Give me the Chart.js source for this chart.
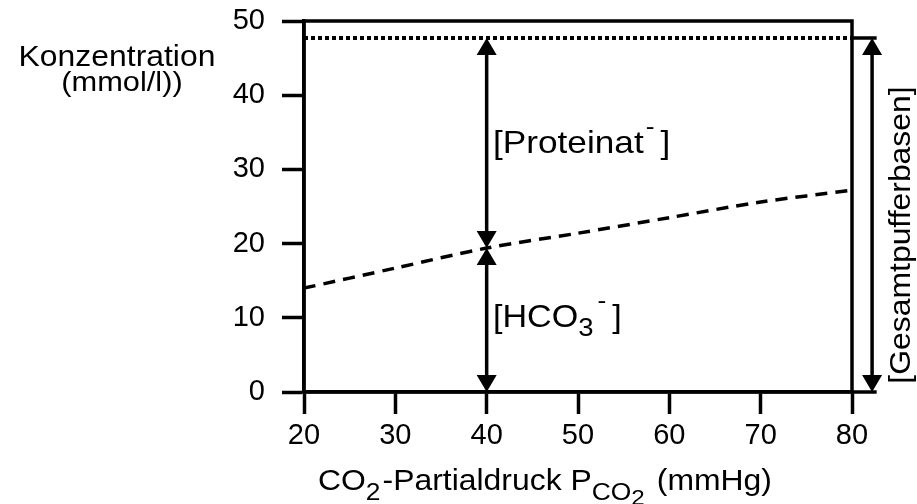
<!DOCTYPE html>
<html>
<head>
<meta charset="utf-8">
<script src="https://cdn.jsdelivr.net/npm/chart.js@4.4.1/dist/chart.umd.min.js"></script>
<style>
html, body { margin: 0; padding: 0; background: #fff; }
#wrap { width: 917px; height: 504px; }
</style>
</head>
<body>
<div id="wrap"><canvas id="co2Chart" width="917" height="504"></canvas></div>
<script>

// data

const pco2 = [20, 30, 40, 50, 60, 70, 80];
const hco3 = [14.0, 16.7, 19.4, 21.4, 23.5, 25.6, 27.2];

const bufferX = [20, 80];
const bufferY = [47.7, 47.7];

// arrows: x position, start value, end value
const arrowX = [40, 40, 82.2];
const arrowFrom = [0, 19.4, 0];
const arrowTo = [19.4, 47.7, 47.7];

const xTicks = [20, 30, 40, 50, 60, 70, 80];
const yTicks = [0, 10, 20, 30, 40, 50];

const FONT = "'Liberation Sans', Arial, sans-serif";
const SX = 1.1; // text in the picture is a bit wide
const LW = 3.5;

// draw a run of text pieces, each {t, size, dy}
function drawRun(ctx, x, y, parts){
  let cx = x;
  parts.forEach(p => {
    ctx.font = p.size + "px " + FONT;
    ctx.save();
    ctx.translate(cx, y + (p.dy || 0));
    ctx.scale(SX, 1);
    ctx.fillText(p.t, 0, 0);
    ctx.restore();
    cx += ctx.measureText(p.t).width * SX + (p.gap || 0);
  });
  return cx - x;
}

function runWidth(ctx, parts){
  let w = 0;
  parts.forEach(p => {
    ctx.font = p.size + "px " + FONT;
    w += ctx.measureText(p.t).width * SX + (p.gap || 0);
  });
  return w;
}

function arrowHead(ctx, x, y, dir){
  // dir -1 = pointing up, 1 = pointing down
  ctx.beginPath();
  ctx.moveTo(x, y);
  ctx.lineTo(x - 10, y - dir * 17);
  ctx.lineTo(x + 10, y - dir * 17);
  ctx.closePath();
  ctx.fill();
}

const extras = {
  id: "extras",
  afterDatasetsDraw(chart){
    const ctx = chart.ctx;
    const xs = chart.scales.x;
    const ys = chart.scales.y;
    const a = chart.chartArea;
    ctx.save();
    ctx.fillStyle = "#000";
    ctx.strokeStyle = "#000";
    ctx.lineWidth = LW;

    // frame
    ctx.strokeRect(a.left, a.top, a.right - a.left, a.bottom - a.top);

    // short solid lines out to the right arrow
    const xr = xs.getPixelForValue(82.7);
    ctx.beginPath();
    ctx.moveTo(a.right, ys.getPixelForValue(bufferY[1]));
    ctx.lineTo(xr, ys.getPixelForValue(bufferY[1]));
    ctx.moveTo(a.right, ys.getPixelForValue(0));
    ctx.lineTo(xr, ys.getPixelForValue(0));
    ctx.stroke();

    // arrows
    for(let i = 0; i < arrowX.length; i++){
      const x = xs.getPixelForValue(arrowX[i]);
      const y1 = ys.getPixelForValue(arrowFrom[i]);
      const y2 = ys.getPixelForValue(arrowTo[i]);
      ctx.beginPath();
      ctx.moveTo(x, y1 - 15);
      ctx.lineTo(x, y2 + 15);
      ctx.stroke();
      arrowHead(ctx, x, y1, 1);
      arrowHead(ctx, x, y2, -1);
    }

    ctx.textAlign = "left";
    ctx.textBaseline = "alphabetic";

    // [Proteinat-]
    drawRun(ctx, 493, 153, [
      {t: "[Proteinat", size: 32, gap: 2},
      {t: "-", size: 24, dy: -19, gap: 6},
      {t: "]", size: 32}
    ]);

    // [HCO3-]
    drawRun(ctx, 493, 327, [
      {t: "[HCO", size: 31},
      {t: "3", size: 25, dy: 9, gap: 4},
      {t: "-", size: 24, dy: -19, gap: 6},
      {t: "]", size: 31}
    ]);

    // y axis title, horizontal at the top left
    const t1 = [{t: "Konzentration", size: 29}];
    const t2 = [{t: "(mmol/l))", size: 28}];
    drawRun(ctx, 117 - runWidth(ctx, t1) / 2, 66, t1);
    drawRun(ctx, 122 - runWidth(ctx, t2) / 2, 91, t2);

    // x axis title with subscripts
    drawRun(ctx, 318, 490, [
      {t: "CO", size: 29},
      {t: "2", size: 24, dy: 10, gap: 2},
      {t: "-Partialdruck P", size: 29},
      {t: "CO", size: 24, dy: 10},
      {t: "2", size: 22, dy: 15, gap: 12},
      {t: "(mmHg)", size: 29}
    ]);

    // rotated label on the right
    ctx.save();
    ctx.translate(910, 235);
    ctx.rotate(-Math.PI / 2);
    const t3 = [{t: "[Gesamtpufferbasen]", size: 29}];
    drawRun(ctx, -runWidth(ctx, t3) / 2, 0, t3);
    ctx.restore();

    ctx.restore();
  }
};

let chart = new Chart(document.getElementById("co2Chart"), {
  type: "line",
  data: {
    datasets: [
      {
        label: "HCO3",
        data: pco2.map((x, i) => ({x: x, y: hco3[i]})),
        borderColor: "#000",
        borderWidth: 3.5,
        borderDash: [12, 8],
        pointRadius: 0,
        tension: 0.3,
        fill: false
      },
      {
        label: "Gesamtpufferbasen",
        data: bufferX.map((x, i) => ({x: x, y: bufferY[i]})),
        borderColor: "#000",
        borderWidth: 4,
        borderDash: [4, 3],
        pointRadius: 0,
        fill: false
      }
    ]
  },
  options: {
    responsive: false,
    animation: false,
    events: [],
    layout: { padding: { top: 21, right: 65, left: 0, bottom: 0 } },
    plugins: {
      legend: { display: false },
      tooltip: { enabled: false }
    },
    scales: {
      x: {
        type: "linear",
        min: 20,
        max: 80,
        afterBuildTicks(s){ s.ticks = xTicks.map(v => ({value: v})); },
        afterFit(s){ s.height = 112; s.paddingLeft = 0; s.paddingRight = 0; },
        ticks: { color: "#000", font: { family: FONT, size: 29 }, padding: 5 },
        grid: { drawOnChartArea: false, tickLength: 22, tickWidth: LW, tickColor: "#000" },
        border: { display: true, width: LW, color: "#000" }
      },
      y: {
        min: 0,
        max: 50,
        afterBuildTicks(s){ s.ticks = yTicks.map(v => ({value: v})); },
        afterFit(s){ s.width = 304; s.paddingTop = 0; s.paddingBottom = 0; },
        ticks: { color: "#000", font: { family: FONT, size: 29 }, padding: 17 },
        grid: { drawOnChartArea: false, tickLength: 22, tickWidth: LW, tickColor: "#000" },
        border: { display: true, width: LW, color: "#000" }
      }
    }
  },
  plugins: [extras]
});

</script>
</body>
</html>
